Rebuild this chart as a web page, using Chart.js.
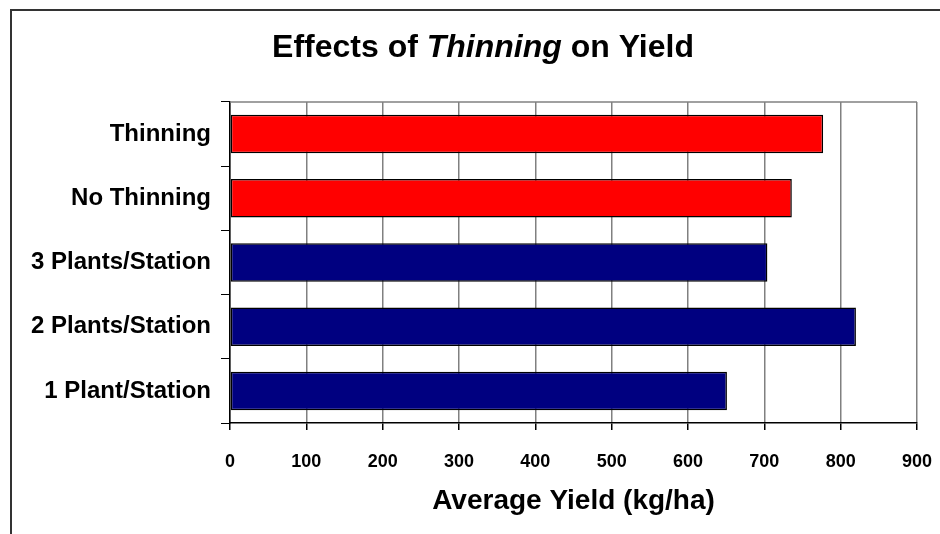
<!DOCTYPE html>
<html>
<head>
<meta charset="utf-8">
<title>Effects of Thinning on Yield</title>
<script src="https://cdn.jsdelivr.net/npm/chart.js@4/dist/chart.umd.min.js"></script>
<style>
  html, body { margin: 0; padding: 0; background: #fff; }
  canvas { display: block; }
</style>
</head>
<body>
<canvas id="myChart" width="940" height="534"></canvas>
<script>
// data
const categories = ['Thinning', 'No Thinning', '3 Plants/Station', '2 Plants/Station', '1 Plant/Station'];
const yields = [777, 736, 704, 820, 651];
const groups = ['thinning', 'thinning', 'plants', 'plants', 'plants'];
const xTicks = [0, 100, 200, 300, 400, 500, 600, 700, 800, 900];

const groupColor = { thinning: '#ff0000', plants: '#000080' };
const FONT = 'Arial, "Liberation Sans", sans-serif';

// outer frame + gray top border of the plot
const framePlugin = {
  id: 'frame',
  beforeDraw(chart) {
    const ctx = chart.ctx;
    ctx.save();
    ctx.fillStyle = '#fff';
    ctx.fillRect(0, 0, chart.width, chart.height);
    ctx.strokeStyle = '#333';
    ctx.lineWidth = 2;
    ctx.beginPath();
    ctx.moveTo(11, chart.height);
    ctx.lineTo(11, 10);
    ctx.lineTo(chart.width, 10);
    ctx.stroke();
    ctx.restore();
  },
  beforeDatasetsDraw(chart) {
    const a = chart.chartArea, ctx = chart.ctx;
    ctx.save();
    ctx.strokeStyle = '#808080';
    ctx.lineWidth = 1.5;
    ctx.beginPath();
    ctx.moveTo(a.left, a.top);
    ctx.lineTo(a.right, a.top);
    ctx.stroke();
    ctx.restore();
  }
};

// title with the italic word
const titlePlugin = {
  id: 'mixedTitle',
  afterDraw(chart) {
    const ctx = chart.ctx;
    const parts = [
      ['Effects of ', 'bold 32px ' + FONT],
      ['Thinning', 'italic bold 32px ' + FONT],
      [' on Yield', 'bold 32px ' + FONT]
    ];
    ctx.save();
    ctx.fillStyle = '#000';
    ctx.textBaseline = 'middle';
    let total = 0;
    parts.forEach(p => { ctx.font = p[1]; total += ctx.measureText(p[0]).width; });
    let x = 483 - total / 2;
    parts.forEach(p => {
      ctx.font = p[1];
      ctx.fillText(p[0], x, 48);
      x += ctx.measureText(p[0]).width;
    });
    ctx.restore();
  }
};

const ctx = document.getElementById('myChart').getContext('2d');
const myChart = new Chart(ctx, {
  type: 'bar',
  data: {
    labels: categories,
    datasets: [{
      data: yields,
      backgroundColor: groups.map(g => groupColor[g]),
      borderColor: '#000',
      borderWidth: 1.5,
      borderSkipped: false,
      barPercentage: 0.6,
      categoryPercentage: 1
    }]
  },
  options: {
    indexAxis: 'y',
    responsive: false,
    devicePixelRatio: 1,
    animation: false,
    layout: { padding: { top: 102, right: 23, left: 0, bottom: 0 } },
    plugins: {
      legend: { display: false },
      title: { display: false },
      tooltip: { enabled: false }
    },
    scales: {
      x: {
        min: 0,
        max: 900,
        afterBuildTicks: s => { s.ticks = xTicks.map(v => ({ value: v })); },
        afterFit: s => { s.height = 111; s.paddingLeft = 0; s.paddingRight = 0; },
        grid: { color: '#808080', lineWidth: 1.5, tickColor: '#000', tickLength: 7 },
        border: { color: '#000', width: 1.5 },
        ticks: {
          color: '#000',
          font: { family: FONT, size: 18, weight: 'bold' },
          padding: 21,
          maxRotation: 0
        },
        title: {
          display: true,
          text: 'Average Yield (kg/ha)',
          color: '#000',
          font: { family: FONT, size: 28, weight: 'bold' },
          padding: { top: 0, bottom: 16 }
        }
      },
      y: {
        afterFit: s => { s.width = 230; },
        grid: { drawOnChartArea: false, offset: true, tickColor: '#000', tickLength: 9 },
        border: { color: '#000', width: 1.5 },
        ticks: {
          color: '#000',
          font: { family: FONT, size: 24, weight: 'bold' },
          padding: 10
        }
      }
    }
  },
  plugins: [framePlugin, titlePlugin]
});
</script>
</body>
</html>
